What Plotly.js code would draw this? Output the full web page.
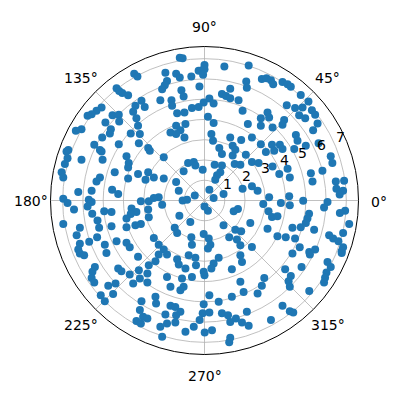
<!DOCTYPE html>
<html><head><meta charset="utf-8">
<script src="https://cdn.plot.ly/plotly-3.0.1.min.js"></script>
<style>html,body{margin:0;padding:0;background:#fff}#chart{width:400px;height:400px}</style>
</head><body><div id="chart"></div>
<script>
// Point positions, as cartesian coordinates in radial units (x = r cos θ, y = r sin θ)
const xData = [-3.47,-3.31,-4.34,-4.21,-4.06,-3.77,-3.11,-2.95,-3.41,-3.52,-3.36,-5.08,-5.33,-5.57,-5.77,-4.54,-4.23,-4.21,-4.89,-4.62,-4.67,-6.07,-6.35,-3.28,-3.64,-3.19,-5.05,-4.23,-3.24,-2.78,-5.44,-5.16,-6.72,
-1.22,-1.08,-1.93,-1.85,-1.96,-2.09,-1.40,-1.22,-0.65,-0.29,-0.12,0.0,0.0,-0.07,0.98,2.18,-0.25,2.06,2.09,1.27,-1.14,-1.03,-2.18,-1.63,-1.60,0.86,1.06,1.27,1.68,0.24,-0.04,0.45,-0.29,-0.62,-1.35,-0.99,0.17,0.45,1.88,2.14,-1.40,-0.94,-1.68,-1.19,-1.40,-0.99,0.34,0.42,1.27,1.81,2.34,0.73,1.39,
2.83,3.06,3.28,3.39,3.85,4.10,4.26,4.75,5.13,4.84,4.06,4.47,4.67,4.97,5.30,5.46,5.58,5.36,3.11,3.19,2.78,3.36,2.78,3.93,3.85,4.51,4.59,5.00,5.63,2.78,3.33,3.72,
-6.81,-6.76,-6.89,-7.05,-6.97,-6.07,-5.08,-5.03,-3.85,-3.74,-3.77,-2.70,-4.43,-5.16,-5.33,-3.77,-3.28,-2.78,-2.91,-6.23,-5.57,-5.71,-5.57,-4.56,-4.26,-6.97,-6.76,-6.44,-5.77,-4.95,-4.59,-3.60,-3.36,-3.64,-3.14,-2.75,-2.78,-2.75,-5.54,-5.28,-5.20,-6.97,-6.15,-6.31,-4.59,-3.85,-3.85,-3.41,-3.14,-5.30,-5.69,-4.92,-4.34,-3.85,-3.69,-6.15,-6.23,
-2.01,-2.50,-2.01,-0.81,-0.53,-0.45,0.86,1.39,1.52,2.04,0.50,0.86,1.49,1.77,2.34,0.78,0.62,0.53,-0.09,-1.03,-1.40,-1.27,0.24,-0.48,-0.86,-1.08,0.45,0.94,1.88,2.34,-2.26,-2.09,-2.50,0.0,0.17,1.44,1.65,2.26,-1.24,-0.70,0.94,-1.47,-1.35,-0.65,-0.62,-0.04,0.21,0.29,0.17,1.52,1.81,1.22,1.60,1.77,2.34,-2.50,-2.26,-2.01,
3.03,3.44,3.85,4.43,2.67,3.36,3.69,4.10,4.21,5.25,5.33,5.82,6.23,6.31,6.48,6.89,6.51,6.84,6.67,2.62,3.19,2.90,3.77,4.18,4.21,4.87,6.07,5.90,6.94,6.68,3.16,3.33,3.60,5.16,5.08,5.00,4.34,4.75,5.41,3.11,3.60,4.01,4.47,6.15,6.35,6.61,6.84,7.14,6.84,6.77,4.70,5.17,5.46,
-6.15,-5.94,-4.84,-3.28,-5.41,-5.53,-5.57,-5.44,-4.26,-4.10,-3.69,-3.24,-3.19,-2.82,-2.75,-2.82,-3.52,-4.75,-4.39,-5.12,-4.92,-4.51,-3.11,-3.19,-3.03,-3.36,-2.82,-3.14,
-2.26,-1.85,-2.42,-1.35,-1.27,-0.94,-0.78,-0.45,-0.42,-0.04,0.0,0.45,0.70,0.34,1.77,1.85,-1.85,-1.68,-1.19,-1.03,-1.11,-0.62,1.35,1.77,1.93,1.35,0.70,0.24,-2.42,-2.39,-1.68,-1.44,-1.19,-1.40,-1.93,-1.44,-1.85,-0.04,-0.09,-0.24,0.24,0.86,1.16,1.27,1.55,1.85,2.18,2.09,-2.18,-2.09,-0.94,-0.53,0.01,0.37,1.27,1.22,
4.34,5.20,6.77,6.07,6.23,6.02,5.95,5.90,4.79,3.98,4.26,4.15,4.21,2.95,2.83,2.62,5.17,3.85,4.21,4.38,3.28];
const yData = [6.26,6.12,5.54,5.41,5.30,5.20,4.92,4.62,4.67,4.38,4.06,4.59,4.43,4.26,4.18,4.21,4.23,3.90,3.85,3.52,3.31,3.52,3.44,3.69,3.31,3.28,3.11,2.78,2.82,2.59,2.75,2.49,2.49,
7.05,7.02,6.31,5.90,5.69,5.49,6.26,6.07,6.12,6.40,6.43,6.69,6.48,6.20,6.61,6.66,5.62,5.87,5.57,5.52,5.44,5.13,4.95,4.95,4.67,5.25,5.16,5.05,4.95,5.03,4.84,4.79,4.62,4.56,4.31,4.34,4.13,3.82,4.43,3.77,3.69,3.77,3.36,3.47,3.28,3.11,3.28,2.95,3.11,2.98,3.11,2.59,2.70,
5.99,6.03,5.94,5.74,5.85,5.74,5.61,5.21,4.88,4.59,4.70,4.56,4.21,4.06,4.46,4.23,3.80,3.47,4.34,4.10,4.06,3.60,3.69,3.97,3.74,3.23,2.95,2.70,2.83,2.78,2.75,2.75,
2.42,2.09,1.80,1.40,1.14,2.01,2.42,2.01,2.18,1.85,1.63,2.45,1.40,1.14,0.94,1.08,1.31,1.40,1.03,0.42,0.48,0.04,-0.07,0.53,0.32,0.09,-0.12,-0.45,-0.29,-0.53,-0.57,-0.40,-0.57,-0.67,-0.04,-0.04,-0.45,-0.83,-0.65,-0.99,-1.35,-1.16,-1.35,-1.72,-1.27,-0.89,-1.32,-1.22,-1.16,-1.81,-2.04,-2.18,-2.01,-2.09,-2.31,-2.14,-2.42,
2.13,1.14,1.08,1.85,1.90,1.73,2.29,2.22,2.50,2.26,1.77,1.73,1.80,1.77,1.90,1.40,1.24,1.03,1.52,1.44,0.91,0.48,0.53,0.25,0.04,0.0,0.12,0.32,0.58,0.70,0.16,-0.21,0.12,-0.29,-0.50,-0.53,-0.42,-1.11,-0.75,-1.06,-1.22,-1.35,-1.60,-1.81,-2.18,-1.65,-1.88,-2.18,-2.37,-1.44,-1.52,-1.81,-1.93,-2.21,-2.29,-1.85,-2.18,-2.42,
2.39,2.45,2.54,2.54,1.85,1.68,1.31,1.57,1.14,1.35,0.94,1.47,2.18,1.85,0.94,0.98,0.58,0.48,0.29,0.48,0.16,-0.17,-0.12,0.21,-0.24,-0.01,-0.07,-0.34,-0.50,-0.62,-0.53,-0.81,-0.78,-0.65,-0.89,-1.11,-1.35,-1.32,-1.44,-1.40,-1.77,-1.81,-1.88,-1.72,-1.88,-2.01,-1.60,-1.16,-2.31,-2.50,-2.31,-2.54,-2.42,
-2.62,-2.70,-2.59,-2.78,-3.28,-3.52,-3.82,-4.05,-3.36,-3.49,-3.65,-3.44,-3.85,-3.60,-3.19,-4.05,-4.10,-4.21,-4.10,-4.67,-4.97,-4.62,-4.97,-5.41,-5.74,-5.95,-5.82,-6.07,
-2.67,-2.67,-3.00,-2.90,-3.16,-3.36,-2.70,-2.83,-3.19,-3.52,-3.69,-3.11,-2.83,-3.36,-2.70,-3.03,-3.77,-4.26,-4.43,-4.26,-3.85,-3.77,-3.39,-4.01,-4.51,-4.75,-5.00,-4.67,-4.75,-5.08,-5.20,-5.25,-5.49,-5.66,-5.62,-6.02,-6.07,-5.12,-5.57,-5.90,-5.53,-5.57,-5.66,-5.99,-5.82,-6.02,-6.18,-5.49,-6.23,-6.72,-6.48,-6.23,-6.51,-6.40,-6.77,-7.00,
-2.62,-2.67,-2.59,-3.03,-3.28,-3.55,-3.81,-4.05,-3.28,-3.39,-3.72,-3.98,-4.26,-3.82,-4.21,-4.59,-4.47,-5.20,-5.46,-5.53,-5.90];

const rVals = xData.map((x, i) => Math.hypot(x, yData[i]));
const thetaVals = xData.map((x, i) => Math.atan2(yData[i], x) * 180 / Math.PI);

const radialTicks = [1, 2, 3, 4, 5, 6, 7];
const radialLabels = ['1', '2', '3', '4', '5', '6', '7'];
const angleTicks = [0, 45, 90, 135, 180, 225, 270, 315];
const angleLabels = ['0°', '45°', '90°', '135°', '180°', '225°', '270°', '315°'];

// Geometry of the polar frame (pixels in the 400x400 figure)
const W = 400, H = 400;
const CX = 204.5, CY = 200.5, R = 154, RMAX = 7.6;
const LABEL_ANGLE = 22.5;
const pxPerUnit = R / RMAX;

const annotations = [];
angleTicks.forEach((a, i) => {
  const t = a * Math.PI / 180;
  const px = CX + (R + 20) * Math.cos(t);
  const py = CY - (R + 20) * Math.sin(t) + 1;
  annotations.push({xref: 'paper', yref: 'paper', x: px / W, y: 1 - py / H,
    xanchor: 'center', yanchor: 'middle', showarrow: false, text: angleLabels[i],
    font: {family: 'DejaVu Sans', size: 14, color: '#000'}});
});
radialTicks.forEach((v, i) => {
  const t = LABEL_ANGLE * Math.PI / 180;
  const px = CX + v * pxPerUnit * Math.cos(t) + 4.7;
  const py = CY - v * pxPerUnit * Math.sin(t) - 9.2;
  annotations.push({xref: 'paper', yref: 'paper', x: px / W, y: 1 - py / H,
    xanchor: 'center', yanchor: 'middle', showarrow: false, text: radialLabels[i],
    font: {family: 'DejaVu Sans', size: 14, color: '#000'}});
});

const trace = {
  type: 'scatterpolar', mode: 'markers',
  r: rVals, theta: thetaVals,
  marker: {color: '#1f77b4', size: 8, line: {width: 0}},
  hoverinfo: 'skip'
};
const layout = {
  width: W, height: H,
  margin: {l: 0, r: 0, t: 0, b: 0},
  paper_bgcolor: '#ffffff',
  font: {family: 'DejaVu Sans', size: 14, color: '#000'},
  showlegend: false,
  annotations: annotations,
  polar: {
    domain: {x: [(CX - R) / W, (CX + R) / W], y: [1 - (CY + R) / H, 1 - (CY - R) / H]},
    bgcolor: '#ffffff',
    radialaxis: {
      range: [0, RMAX], tickmode: 'array', tickvals: radialTicks,
      angle: LABEL_ANGLE, showticklabels: false, showline: false, ticks: '',
      gridcolor: '#b0b0b0', gridwidth: 0.8
    },
    angularaxis: {
      tickmode: 'array', tickvals: angleTicks, ticktext: angleLabels,
      rotation: 0, direction: 'counterclockwise', showticklabels: false,
      showline: true, linecolor: '#000', linewidth: 1, ticks: '',
      gridcolor: '#b0b0b0', gridwidth: 0.8
    }
  }
};
Plotly.newPlot('chart', [trace], layout, {displayModeBar: false, staticPlot: true});
</script>
</body></html>
